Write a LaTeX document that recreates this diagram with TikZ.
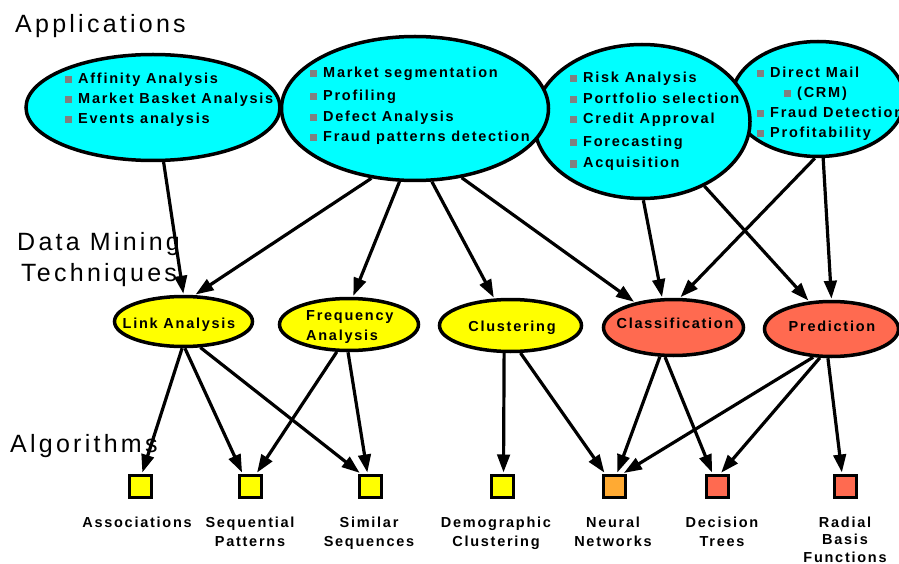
\documentclass[tikz,border=0pt]{standalone}
\usepackage{fontspec}
\setmainfont{Liberation Sans}
\newfontfamily\lblfont[LetterSpace=12]{Liberation Sans}
\newfontfamily\headfont[LetterSpace=13]{Liberation Sans}
\usetikzlibrary{shapes.geometric,arrows.meta}
\definecolor{appcyan}{RGB}{0,255,255}
\definecolor{techyellow}{RGB}{255,255,0}
\definecolor{salmon}{RGB}{255,106,80}
\definecolor{nnorange}{RGB}{255,170,51}
\definecolor{bulgray}{RGB}{128,128,128}
\newcommand{\bul}{\textcolor{bulgray}{\rule[0.5pt]{7pt}{7pt}}\hspace{6pt}}
\begin{document}
\begin{tikzpicture}[x=1pt,y=-1pt,
  app/.style={ellipse, draw, line width=3.5pt, fill=appcyan, inner sep=0pt},
  tech/.style={ellipse, draw, line width=3.5pt, inner sep=0pt},
  algo/.style={rectangle, draw, line width=3pt, minimum size=22pt, inner sep=0pt},
  item/.style={anchor=base west, inner sep=0pt, font=\lblfont\bfseries\fontsize{14.5}{20}\selectfont},
  lbl/.style={anchor=base, inner sep=0pt, align=center, font=\lblfont\bfseries\fontsize{14.5}{18.5}\selectfont},
  head/.style={anchor=base west, inner sep=0pt, font=\headfont\fontsize{25}{30}\selectfont},
  arr/.style={line width=3.2pt, shorten >=1pt, -{Triangle[length=18pt,width=12.5pt]}},
]
\useasboundingbox (0,0) rectangle (899,564);

% headings
\node[head] (happ) at (15,33) {Applications};
\node[head] (hdm) at (17,250) {Data Mining};
\node[head] (htech) at (21,281) {Techniques};
\node[head] (halg) at (10,452) {Algorithms};

% application ellipses
\node[app, minimum width=254pt, minimum height=106pt] (E1) at (153,107.5) {};
\node[app, minimum width=173pt, minimum height=115pt] (E4) at (818,99) {};
\node[app, minimum width=216pt, minimum height=154pt] (E3) at (642,121.5) {};
\node[app, minimum width=267pt, minimum height=144pt] (E2) at (415,108.5) {};

\node[item] (e1a) at (65,84) {\bul Affinity Analysis};
\node[item] (e1b) at (65,104) {\bul Market Basket Analysis};
\node[item] (e1c) at (65,124) {\bul Events analysis};

\node[item] (e2a) at (310,78) {\bul Market segmentation};
\node[item] (e2b) at (310,101) {\bul Profiling};
\node[item] (e2c) at (310,122) {\bul Defect Analysis};
\node[item] (e2d) at (310,142) {\bul Fraud patterns detection};

\node[item] (e3a) at (570,83) {\bul Risk Analysis};
\node[item] (e3b) at (570,104) {\bul Portfolio selection};
\node[item] (e3c) at (570,124) {\bul Credit Approval};
\node[item] (e3d) at (570,147) {\bul Forecasting};
\node[item] (e3e) at (570,168) {\bul Acquisition};

\node[item] (e4a) at (757,78) {\bul Direct Mail};
\node[item] (e4b) at (784,98) {\bul (CRM)};
\node[item] (e4c) at (757,118) {\bul Fraud Detection};
\node[item] (e4d) at (757,138) {\bul Profitability};

% technique ellipses
\node[tech, fill=techyellow, minimum width=138pt, minimum height=50pt] (link) at (183.5,321.5) {};
\node[tech, fill=techyellow, minimum width=139pt, minimum height=52pt] (freq) at (349,324.5) {};
\node[tech, fill=techyellow, minimum width=142pt, minimum height=52pt] (clust) at (510.5,325.5) {};
\node[tech, fill=salmon, minimum width=140pt, minimum height=56pt] (class) at (673.5,327.5) {};
\node[tech, fill=salmon, minimum width=134pt, minimum height=55pt] (pred) at (831.5,329) {};

\node[lbl] (tlink) at (179,328) {Link Analysis};
\node[lbl, anchor=base west, align=left] (tfreq) at (306,340) {Frequency\\[1.5pt]Analysis};
\node[lbl] (tclust) at (512,331) {Clustering};
\node[lbl] (tclass) at (675,328) {Classification};
\node[lbl] (tpred) at (832,331) {Prediction};

% algorithm squares
\node[algo, fill=techyellow] (assoc) at (140,486) {};
\node[algo, fill=techyellow] (seq) at (250.5,486) {};
\node[algo, fill=techyellow] (sim) at (370.5,486) {};
\node[algo, fill=techyellow] (demo) at (502.5,486) {};
\node[algo, fill=nnorange] (neural) at (614,486) {};
\node[algo, fill=salmon] (dec) at (717.5,486) {};
\node[algo, fill=salmon] (radial) at (845,486) {};

\node[lbl] (lassoc) at (137,527) {Associations};
\node[lbl] (lseq) at (250,546) {Sequential\\Patterns};
\node[lbl] (lsim) at (369,546) {Similar\\Sequences};
\node[lbl] (ldemo) at (496,546) {Demographic\\Clustering};
\node[lbl] (lneural) at (613,546) {Neural\\Networks};
\node[lbl] (ldec) at (722,546) {Decision\\Trees};
\node[lbl, font=\lblfont\bfseries\fontsize{14.5}{17.5}\selectfont] (lradial) at (845,562) {Radial\\Basis\\Functions};

% applications -> techniques
\draw[arr] (E1.281) -- (link.90);
\draw[arr] (E2.238) -- (link.67);
\draw[arr] (E2.258) -- (freq.82);
\draw[arr] (E2.283) -- (clust.121);
\draw[arr] (E2.304) -- (class.147);
\draw[arr] (E3.271) -- (class.111);
\draw[arr] (E4.267) -- (class.78);
\draw[arr] (E3.314) -- (pred.129);
\draw[arr] (E4.275) -- (pred.90);

% techniques -> algorithms
\draw[arr] (link.267) -- ([xshift=2pt]assoc.north);
\draw[arr] (link.273) -- ([xshift=-8pt]seq.north);
\draw[arr] (link.303) -- ([xshift=-10pt]sim.north);
\draw[arr] (freq.246) -- ([xshift=6pt]seq.north);
\draw[arr] (freq.268) -- ([xshift=-3pt]sim.north);
\draw[arr] (clust.257) -- ([xshift=1pt]demo.north);
\draw[arr] (clust.290) -- ([xshift=-9pt]neural.north);
\draw[arr] (class.245) -- ([xshift=3pt]neural.north);
\draw[arr] (class.254) -- ([xshift=-5pt]dec.north);
\draw[arr] (pred.237) -- ([xshift=9pt]neural.north);
\draw[arr] (pred.248) -- ([xshift=3pt]dec.north);
\draw[arr] (pred.263) -- ([xshift=-3pt]radial.north);
\end{tikzpicture}
\end{document}
